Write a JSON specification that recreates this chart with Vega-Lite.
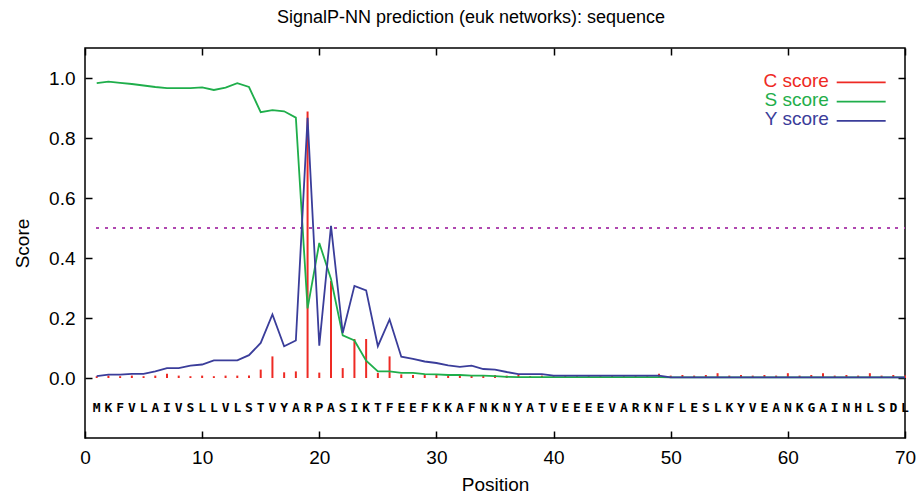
{
  "$schema": "https://vega.github.io/schema/vega-lite/v6.json",
  "width": 820,
  "height": 390,
  "autosize": "none",
  "padding": {"left": 85, "top": 48, "right": 11, "bottom": 55},
  "background": "white",
  "title": {"text": "SignalP-NN prediction (euk networks): sequence", "font": "Liberation Sans", "fontSize": 18, "fontWeight": "normal", "color": "black", "anchor": "middle", "dx": -24, "offset": 20},
  "config": {
    "view": {"stroke": "black", "strokeWidth": 1.5},
    "axis": {"domain": false, "grid": false, "tickColor": "black", "tickWidth": 1.5, "tickSize": -7, "labelFont": "Liberation Sans", "labelFontSize": 19, "labelColor": "black", "titleFont": "Liberation Sans", "titleFontSize": 19, "titleFontWeight": "normal", "titleColor": "black", "labelPadding": 17, "labelFlush": false}
  },
  "datasets": {
    "scores": [
      {"pos": 1, "aa": "M", "C": 0.006, "S": 0.983, "Y": 0.006},
      {"pos": 2, "aa": "K", "C": 0.008, "S": 0.988, "Y": 0.011},
      {"pos": 3, "aa": "F", "C": 0.006, "S": 0.984, "Y": 0.011},
      {"pos": 4, "aa": "V", "C": 0.008, "S": 0.980, "Y": 0.014},
      {"pos": 5, "aa": "L", "C": 0.006, "S": 0.975, "Y": 0.014},
      {"pos": 6, "aa": "A", "C": 0.008, "S": 0.970, "Y": 0.022},
      {"pos": 7, "aa": "I", "C": 0.014, "S": 0.966, "Y": 0.033},
      {"pos": 8, "aa": "V", "C": 0.008, "S": 0.966, "Y": 0.033},
      {"pos": 9, "aa": "S", "C": 0.006, "S": 0.966, "Y": 0.041},
      {"pos": 10, "aa": "L", "C": 0.008, "S": 0.969, "Y": 0.045},
      {"pos": 11, "aa": "L", "C": 0.006, "S": 0.960, "Y": 0.059},
      {"pos": 12, "aa": "V", "C": 0.008, "S": 0.968, "Y": 0.059},
      {"pos": 13, "aa": "L", "C": 0.008, "S": 0.983, "Y": 0.059},
      {"pos": 14, "aa": "S", "C": 0.008, "S": 0.970, "Y": 0.076},
      {"pos": 15, "aa": "T", "C": 0.028, "S": 0.886, "Y": 0.117},
      {"pos": 16, "aa": "V", "C": 0.072, "S": 0.893, "Y": 0.212},
      {"pos": 17, "aa": "Y", "C": 0.019, "S": 0.889, "Y": 0.106},
      {"pos": 18, "aa": "A", "C": 0.022, "S": 0.868, "Y": 0.125},
      {"pos": 19, "aa": "R", "C": 0.888, "S": 0.232, "Y": 0.867},
      {"pos": 20, "aa": "P", "C": 0.018, "S": 0.450, "Y": 0.108},
      {"pos": 21, "aa": "A", "C": 0.323, "S": 0.330, "Y": 0.507},
      {"pos": 22, "aa": "S", "C": 0.033, "S": 0.142, "Y": 0.150},
      {"pos": 23, "aa": "I", "C": 0.130, "S": 0.125, "Y": 0.307},
      {"pos": 24, "aa": "K", "C": 0.130, "S": 0.058, "Y": 0.292},
      {"pos": 25, "aa": "T", "C": 0.017, "S": 0.022, "Y": 0.106},
      {"pos": 26, "aa": "F", "C": 0.072, "S": 0.022, "Y": 0.195},
      {"pos": 27, "aa": "E", "C": 0.012, "S": 0.017, "Y": 0.071},
      {"pos": 28, "aa": "E", "C": 0.010, "S": 0.017, "Y": 0.064},
      {"pos": 29, "aa": "F", "C": 0.012, "S": 0.013, "Y": 0.055},
      {"pos": 30, "aa": "K", "C": 0.010, "S": 0.012, "Y": 0.050},
      {"pos": 31, "aa": "K", "C": 0.008, "S": 0.010, "Y": 0.042},
      {"pos": 32, "aa": "A", "C": 0.012, "S": 0.010, "Y": 0.037},
      {"pos": 33, "aa": "F", "C": 0.010, "S": 0.008, "Y": 0.041},
      {"pos": 34, "aa": "N", "C": 0.008, "S": 0.008, "Y": 0.030},
      {"pos": 35, "aa": "K", "C": 0.010, "S": 0.006, "Y": 0.028},
      {"pos": 36, "aa": "N", "C": 0.008, "S": 0.004, "Y": 0.020},
      {"pos": 37, "aa": "Y", "C": 0.010, "S": 0.003, "Y": 0.013},
      {"pos": 38, "aa": "A", "C": 0.006, "S": 0.003, "Y": 0.013},
      {"pos": 39, "aa": "T", "C": 0.008, "S": 0.003, "Y": 0.013},
      {"pos": 40, "aa": "V", "C": 0.006, "S": 0.003, "Y": 0.008},
      {"pos": 41, "aa": "E", "C": 0.008, "S": 0.003, "Y": 0.008},
      {"pos": 42, "aa": "E", "C": 0.006, "S": 0.003, "Y": 0.008},
      {"pos": 43, "aa": "E", "C": 0.008, "S": 0.003, "Y": 0.008},
      {"pos": 44, "aa": "E", "C": 0.006, "S": 0.003, "Y": 0.008},
      {"pos": 45, "aa": "V", "C": 0.008, "S": 0.003, "Y": 0.008},
      {"pos": 46, "aa": "A", "C": 0.006, "S": 0.003, "Y": 0.008},
      {"pos": 47, "aa": "R", "C": 0.008, "S": 0.003, "Y": 0.008},
      {"pos": 48, "aa": "K", "C": 0.006, "S": 0.003, "Y": 0.008},
      {"pos": 49, "aa": "N", "C": 0.014, "S": 0.003, "Y": 0.008},
      {"pos": 50, "aa": "F", "C": 0.008, "S": 0.002, "Y": 0.002},
      {"pos": 51, "aa": "L", "C": 0.010, "S": 0.002, "Y": 0.002},
      {"pos": 52, "aa": "E", "C": 0.008, "S": 0.002, "Y": 0.002},
      {"pos": 53, "aa": "S", "C": 0.010, "S": 0.002, "Y": 0.002},
      {"pos": 54, "aa": "L", "C": 0.016, "S": 0.002, "Y": 0.002},
      {"pos": 55, "aa": "K", "C": 0.008, "S": 0.002, "Y": 0.002},
      {"pos": 56, "aa": "Y", "C": 0.010, "S": 0.002, "Y": 0.002},
      {"pos": 57, "aa": "V", "C": 0.008, "S": 0.002, "Y": 0.002},
      {"pos": 58, "aa": "E", "C": 0.010, "S": 0.002, "Y": 0.002},
      {"pos": 59, "aa": "A", "C": 0.008, "S": 0.002, "Y": 0.002},
      {"pos": 60, "aa": "N", "C": 0.016, "S": 0.002, "Y": 0.002},
      {"pos": 61, "aa": "K", "C": 0.008, "S": 0.002, "Y": 0.002},
      {"pos": 62, "aa": "G", "C": 0.010, "S": 0.002, "Y": 0.002},
      {"pos": 63, "aa": "A", "C": 0.016, "S": 0.002, "Y": 0.002},
      {"pos": 64, "aa": "I", "C": 0.008, "S": 0.002, "Y": 0.002},
      {"pos": 65, "aa": "N", "C": 0.010, "S": 0.002, "Y": 0.002},
      {"pos": 66, "aa": "H", "C": 0.008, "S": 0.002, "Y": 0.002},
      {"pos": 67, "aa": "L", "C": 0.016, "S": 0.002, "Y": 0.002},
      {"pos": 68, "aa": "S", "C": 0.008, "S": 0.002, "Y": 0.002},
      {"pos": 69, "aa": "D", "C": 0.010, "S": 0.002, "Y": 0.002},
      {"pos": 70, "aa": "L", "C": 0.008, "S": 0.002, "Y": 0.002}
    ],
    "legend": [
      {"series": "C score"},
      {"series": "S score"},
      {"series": "Y score"}
    ]
  },
  "resolve": {"axis": {"x": "independent", "y": "independent"}},
  "layer": [
    {
      "data": {"name": "scores"},
      "mark": {"type": "rule", "color": "#b048b0", "strokeWidth": 2, "strokeDash": [2, 6.5]},
      "encoding": {
        "x": {"datum": 1, "type": "quantitative", "scale": {"domain": [0, 70], "nice": false, "zero": false}, "axis": null},
        "x2": {"datum": 70},
        "y": {"datum": 0.5, "type": "quantitative", "scale": {"domain": [-0.2, 1.1], "nice": false, "zero": false}, "axis": null}
      }
    },
    {
      "data": {"name": "scores"},
      "mark": {"type": "rule", "color": "#ee2a24", "strokeWidth": 2},
      "encoding": {
        "x": {"field": "pos", "type": "quantitative", "scale": {"domain": [0, 70], "nice": false, "zero": false}, "axis": {"orient": "bottom", "title": "Position", "values": [0, 10, 20, 30, 40, 50, 60, 70], "titlePadding": 8}},
        "y": {"field": "C", "type": "quantitative", "scale": {"domain": [-0.2, 1.1], "nice": false, "zero": false}, "axis": {"orient": "left", "title": "Score", "values": [0, 0.2, 0.4, 0.6, 0.8, 1.0], "format": ".1f", "titlePadding": 16}},
        "y2": {"datum": 0}
      }
    },
    {
      "data": {"name": "scores"},
      "mark": {"type": "line", "color": "#1fae4b", "strokeWidth": 1.8},
      "encoding": {
        "x": {"field": "pos", "type": "quantitative", "scale": {"domain": [0, 70], "nice": false, "zero": false}, "axis": {"orient": "top", "labels": false, "title": null, "values": [0, 10, 20, 30, 40, 50, 60, 70]}},
        "y": {"field": "S", "type": "quantitative", "scale": {"domain": [-0.2, 1.1], "nice": false, "zero": false}, "axis": {"orient": "right", "labels": false, "title": null, "values": [0, 0.2, 0.4, 0.6, 0.8, 1.0]}}
      }
    },
    {
      "data": {"name": "scores"},
      "mark": {"type": "line", "color": "#3a3d9a", "strokeWidth": 1.8},
      "encoding": {
        "x": {"field": "pos", "type": "quantitative", "scale": {"domain": [0, 70], "nice": false, "zero": false}, "axis": null},
        "y": {"field": "Y", "type": "quantitative", "scale": {"domain": [-0.2, 1.1], "nice": false, "zero": false}, "axis": null}
      }
    },
    {
      "data": {"name": "scores"},
      "mark": {"type": "text", "font": "DejaVu Sans Mono", "fontWeight": "bold", "fontSize": 13, "color": "black", "baseline": "middle", "align": "center"},
      "encoding": {
        "x": {"field": "pos", "type": "quantitative", "scale": {"domain": [0, 70], "nice": false, "zero": false}, "axis": null},
        "y": {"datum": -0.1, "type": "quantitative", "scale": {"domain": [-0.2, 1.1], "nice": false, "zero": false}, "axis": null},
        "text": {"field": "aa"}
      }
    },
    {
      "data": {"name": "legend"},
      "mark": {"type": "text", "font": "Liberation Sans", "fontSize": 19, "align": "right", "baseline": "middle"},
      "encoding": {
        "x": {"datum": 63.5, "type": "quantitative", "scale": {"domain": [0, 70], "nice": false, "zero": false}, "axis": null},
        "y": {"datum": 0.991, "type": "quantitative", "scale": {"domain": [-0.2, 1.1], "nice": false, "zero": false}, "axis": null},
        "yOffset": {"field": "series", "type": "nominal", "scale": {"type": "point", "range": [0, 38.6], "padding": 0}},
        "text": {"field": "series"},
        "color": {"field": "series", "type": "nominal", "scale": {"domain": ["C score", "S score", "Y score"], "range": ["#ee2a24", "#1fae4b", "#3a3d9a"]}, "legend": null}
      }
    },
    {
      "data": {"name": "legend"},
      "mark": {"type": "rule", "strokeWidth": 1.8},
      "encoding": {
        "x": {"datum": 64.17, "type": "quantitative", "scale": {"domain": [0, 70], "nice": false, "zero": false}, "axis": null},
        "x2": {"datum": 68.35},
        "y": {"datum": 0.9857, "type": "quantitative", "scale": {"domain": [-0.2, 1.1], "nice": false, "zero": false}, "axis": null},
        "yOffset": {"field": "series", "type": "nominal", "scale": {"type": "point", "range": [0, 38], "padding": 0}},
        "color": {"field": "series", "type": "nominal", "scale": {"domain": ["C score", "S score", "Y score"], "range": ["#ee2a24", "#1fae4b", "#3a3d9a"]}, "legend": null}
      }
    }
  ]
}
